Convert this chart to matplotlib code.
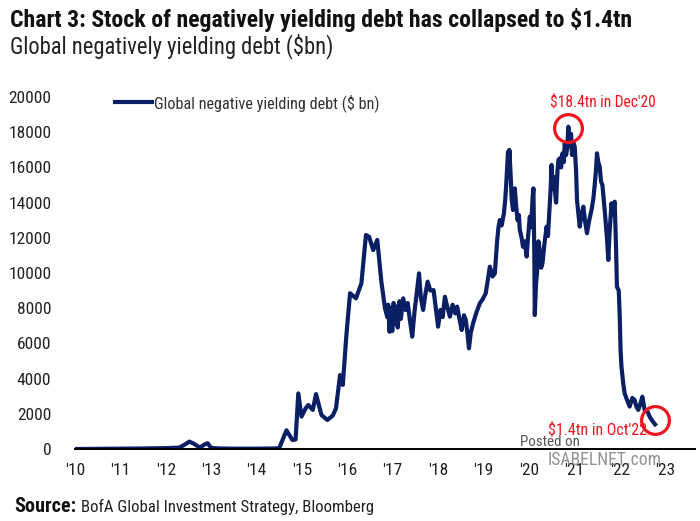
import matplotlib.pyplot as plt
from matplotlib import font_manager
from matplotlib.textpath import TextPath
from matplotlib.font_manager import FontProperties

# Global negatively yielding debt, $bn
years = [2010.00, 2010.50, 2011.00, 2011.50, 2012.00, 2012.30, 2012.45, 2012.52, 2012.62,
         2012.75, 2012.85, 2012.92, 2013.00, 2013.20, 2013.50, 2014.00, 2014.40, 2014.50,
         2014.66, 2014.79, 2014.86, 2014.92, 2014.99, 2015.08, 2015.14, 2015.24, 2015.31,
         2015.43, 2015.56, 2015.68, 2015.75, 2015.84, 2015.90, 2015.98, 2016.06, 2016.19,
         2016.31, 2016.41, 2016.48, 2016.57, 2016.66, 2016.75, 2016.83, 2016.88, 2016.90,
         2016.93, 2016.96, 2016.99, 2017.02, 2017.05, 2017.08, 2017.11, 2017.15, 2017.18,
         2017.23, 2017.28, 2017.33, 2017.38, 2017.43, 2017.48, 2017.53, 2017.58, 2017.62,
         2017.67, 2017.72, 2017.77, 2017.83, 2017.90, 2017.95, 2018.00, 2018.05, 2018.10,
         2018.15, 2018.20, 2018.26, 2018.32, 2018.38, 2018.42, 2018.47, 2018.52, 2018.57,
         2018.61, 2018.65, 2018.68, 2018.72, 2018.77, 2018.85, 2018.92, 2018.98, 2019.05,
         2019.10, 2019.14, 2019.20, 2019.25, 2019.30, 2019.33, 2019.36, 2019.40, 2019.45,
         2019.48, 2019.50, 2019.52, 2019.54, 2019.56, 2019.57, 2019.60, 2019.62, 2019.65,
         2019.67, 2019.69, 2019.72, 2019.75, 2019.78, 2019.80, 2019.84, 2019.87, 2019.91,
         2019.95, 2019.98, 2020.02, 2020.05, 2020.08, 2020.10, 2020.12, 2020.13, 2020.16,
         2020.18, 2020.21, 2020.23, 2020.27, 2020.30, 2020.34, 2020.39, 2020.42, 2020.45,
         2020.48, 2020.50, 2020.52, 2020.55, 2020.58, 2020.60, 2020.63, 2020.65, 2020.68,
         2020.71, 2020.74, 2020.77, 2020.79, 2020.82, 2020.84, 2020.87, 2020.89, 2020.90,
         2020.93, 2020.95, 2020.98, 2021.01, 2021.04, 2021.06, 2021.09, 2021.12, 2021.16,
         2021.20, 2021.24, 2021.28, 2021.33, 2021.38, 2021.42, 2021.45, 2021.48, 2021.50,
         2021.53, 2021.56, 2021.59, 2021.62, 2021.67, 2021.70, 2021.72, 2021.75, 2021.78,
         2021.82, 2021.85, 2021.89, 2021.92, 2021.94, 2021.98, 2022.00, 2022.02, 2022.04,
         2022.08, 2022.11, 2022.16, 2022.22, 2022.28, 2022.33, 2022.37, 2022.41, 2022.46,
         2022.50, 2022.55, 2022.62, 2022.66, 2022.72, 2022.78]
debt = [0, 10, 20, 30, 50, 80, 300, 420, 300,
        80, 250, 330, 60, 30, 20, 20, 30, 50,
        1060, 510, 540, 3160, 1840, 2300, 2500, 2220, 3120,
        1930, 1650, 1900, 2310, 4200, 3640, 6500, 8850, 8560,
        9410, 12160, 12060, 11300, 11880, 9500, 7990, 7500, 8200,
        6660, 8000, 6700, 8300, 7100, 8100, 6900, 8400, 7400,
        8560, 7900, 8300, 7300, 6380, 7800, 8900, 9980, 8600,
        7900, 8800, 9510, 9000, 9030, 8000, 6950, 7900, 7500,
        8650, 8100, 7520, 8200, 7700, 8090, 7400, 6760, 7600,
        7330, 6500, 5720, 6600, 7140, 7800, 8280, 8500, 8850,
        9700, 10360, 9800, 9980, 11800, 12600, 13010, 12700, 13390,
        14200, 15000, 15900, 16890, 15900, 16990, 15470, 14200, 13580,
        14400, 14810, 13800, 13000, 13300, 12440, 12000, 11490, 11800,
        10930, 12000, 13200, 12600, 14200, 14810, 11000, 7610, 9500,
        10000, 11800, 11490, 10300, 10550, 11600, 12630, 12100, 13500,
        14800, 16140, 14800, 15470, 14500, 14000, 15800, 16420, 16520,
        16000, 16800, 16300, 17370, 16700, 17000, 18310, 17600, 17200,
        17900, 16700, 17400, 17180, 15800, 14150, 13400, 12630, 13300,
        13770, 12900, 12260, 13000, 13580, 14200, 15000, 15900, 16800,
        16300, 16040, 15200, 15000, 13580, 12600, 12000, 10740, 12400,
        13960, 13300, 14050, 11500, 9220, 9000, 7710, 5630, 4680,
        3700, 3160, 2800, 2410, 2900, 2780, 2400, 2220, 2600,
        2970, 2220, 2100, 1840, 1600, 1400]

tick_years = list(range(2010, 2024))
tick_labels = ["'" + str(y)[2:] for y in tick_years]
y_ticks = list(range(0, 20001, 2000))

peak_point = (2020.87, 18220)
last_point = (2022.78, 1650)

navy = '#0B1F65'
red = '#F0141E'

# pick a narrow family if one is installed
installed = {f.name for f in font_manager.fontManager.ttflist}
family = 'DejaVu Sans'
for name in ['Liberation Sans Narrow', 'Roboto Condensed', 'Open Sans Condensed', 'Lato', 'Roboto']:
    if name in installed:
        family = name
        break
plt.rcParams['font.family'] = [family, 'DejaVu Sans']


def fit(text, width_px, weight='normal'):
    # font size (pt) that makes text about width_px wide at 100 dpi
    w = TextPath((0, 0), text, size=100, prop=FontProperties(family=family, weight=weight)).get_extents().width
    return 100 * width_px / (w * 100 / 72)


fig = plt.figure(figsize=(7, 5.21), dpi=100)
ax = fig.add_axes([75 / 700, 72 / 521, 620 / 700, 352 / 521])

ax.plot(years, debt, color=navy, lw=3.0, solid_joinstyle='round',
        label='Global negative yielding debt ($ bn)')

ax.set_xlim(2010, 2023.66)
ax.set_ylim(0, 20000)
ax.set_xticks(tick_years)
ax.set_xticklabels(tick_labels)
ax.set_yticks(y_ticks)
tick_size = fit('20000', 41)
ax.tick_params(axis='both', length=0, labelsize=tick_size, labelcolor='#222222')
ax.tick_params(axis='y', pad=17)
ax.tick_params(axis='x', pad=10)
for side in ['top', 'right', 'left']:
    ax.spines[side].set_visible(False)
ax.spines['bottom'].set_linewidth(1.4)
ax.spines['bottom'].set_color('black')

# red circles around peak and latest value
ax.plot(*peak_point, marker='o', ms=20, mfc='none', mec=red, mew=2.3, clip_on=False)
ax.plot(*last_point, marker='o', ms=20, mfc='none', mec=red, mew=2.3, clip_on=False)
t1 = "$18.4tn in Dec'20"
t2 = "$1.4tn in Oct'22"
ax.text(2021.64, 19750, t1, color=red, fontsize=fit(t1, 105), ha='center', va='center')
ax.text(2022.61, 1080, t2, color=red, fontsize=fit(t2, 98), ha='right', va='center')

leg_label = 'Global negative yielding debt ($ bn)'
leg_size = fit(leg_label, 225)
ax.legend(loc='center left', bbox_to_anchor=(0.064, 0.983), frameon=False,
          handlelength=37 / (leg_size * 100 / 72), handletextpad=0.15, borderpad=0,
          borderaxespad=0, fontsize=leg_size, labelcolor='#333333')

# watermark
fig.text(520 / 700, 1 - 442 / 521, 'Posted on', color='#555555', fontsize=fit('Posted on', 58),
         ha='left', va='center')
fig.text(548 / 700, 1 - 460 / 521, 'ISABELNET.com', color='#777777',
         fontsize=fit('ISABELNET.com', 112), ha='left', va='center', alpha=0.8)

# titles
title = 'Chart 3: Stock of negatively yielding debt has collapsed to $1.4tn'
fig.text(10 / 700, 1 - 20 / 521, title, fontsize=fit(title, 618, 'bold'),
         fontweight='bold', ha='left', va='center', color='#111111')
subtitle = 'Global negatively yielding debt ($bn)'
fig.text(10 / 700, 1 - 46 / 521, subtitle, fontsize=fit(subtitle, 320),
         ha='left', va='center', color='#222222')

src = fig.text(14 / 700, 1 - 507 / 521, 'Source:', fontsize=fit('Source:', 60, 'bold'),
               fontweight='bold', ha='left', va='center', color='#111111')
fig.canvas.draw()
bb = src.get_window_extent()
rest = 'BofA Global Investment Strategy, Bloomberg'
fig.text((bb.x1 + 5) / 700, 1 - 507 / 521, rest, fontsize=fit(rest, 373 - bb.x1 - 5),
         ha='left', va='center', color='#222222')

fig.savefig('out.png', dpi=100)
